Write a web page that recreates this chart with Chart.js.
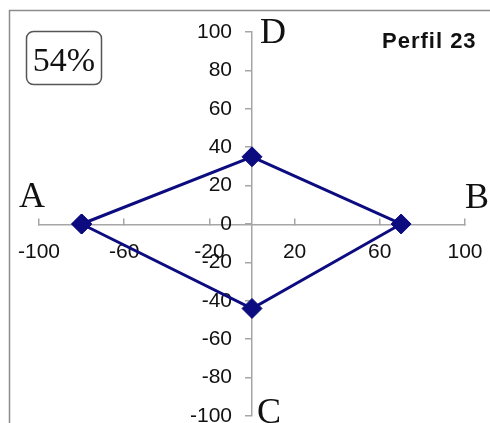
<!DOCTYPE html>
<html lang="es">
<head>
  <meta charset="UTF-8" />
  <title>Perfil 23</title>
  <script src="https://cdn.jsdelivr.net/npm/chart.js"></script>
  <style>
    body { margin: 0; background: #fff; }
    canvas { display: block; }
  </style>
</head>
<body>
  <canvas id="perfil" width="490" height="423"></canvas>

  <script>
    // puntos del perfil: A, D, B, C y vuelta a A para cerrar el rombo
    const pointNames = ['A', 'D', 'B', 'C', 'A'];
    const xValues = [-80, 0, 70, 0, -80];
    const yValues = [0, 35, 0, -44, 0];

    const xTicks = [-100, -60, -20, 20, 60, 100];
    const yTicks = [-100, -80, -60, -40, -20, 0, 20, 40, 60, 80, 100];

    const chartTitle = 'Perfil 23';
    const percentText = '54%';

    const axisColor = '#a6a6a6';
    const lineColor = '#0c0c80';
    const tickFont = { family: 'Liberation Sans', size: 21 };

    // los ejes van en el centro; sin esto el relleno de las etiquetas encoge el área
    const noPadding = scale => {
      scale.paddingTop = 0;
      scale.paddingBottom = 0;
      scale.paddingLeft = 0;
      scale.paddingRight = 0;
    };

    // marco, recuadro del porcentaje y letras de los extremos
    const decorations = {
      id: 'decorations',
      beforeDraw(chart) {
        const ctx = chart.ctx;
        ctx.save();
        ctx.strokeStyle = '#8c8c8c';
        ctx.lineWidth = 1.5;
        ctx.strokeRect(9.5, 10.5, 520, 440);
        ctx.restore();
      },
      afterDraw(chart) {
        const ctx = chart.ctx;
        ctx.save();
        ctx.fillStyle = '#111';

        ctx.font = '36px "Liberation Serif"';
        ctx.textBaseline = 'alphabetic';
        ctx.textAlign = 'left';
        ctx.fillText('A', 19, 207);
        ctx.fillText('B', 465, 208);
        ctx.fillText('D', 260, 43);
        ctx.fillText('C', 257, 423);

        // recuadro redondeado con el porcentaje
        ctx.strokeStyle = '#555';
        ctx.lineWidth = 1.5;
        ctx.beginPath();
        ctx.roundRect(26.5, 31.5, 75, 53, 7);
        ctx.stroke();
        ctx.font = '34px "Liberation Serif"';
        ctx.textAlign = 'center';
        ctx.fillText(percentText, 64, 71);

        ctx.font = 'bold 22px "Liberation Sans"';
        ctx.letterSpacing = '1px';
        ctx.textAlign = 'left';
        ctx.fillText(chartTitle, 382, 48);
        ctx.restore();
      }
    };

    const ctx = document.getElementById('perfil').getContext('2d');
    new Chart(ctx, {
      type: 'scatter',
      data: {
        labels: pointNames,
        datasets: [{
          data: xValues.map((x, i) => ({ x, y: yValues[i] })),
          showLine: true,
          borderColor: lineColor,
          borderWidth: 3,
          backgroundColor: lineColor,
          pointStyle: 'rectRot',
          pointRadius: 10,
          pointBorderWidth: 1,
          pointBorderColor: lineColor
        }]
      },
      options: {
        responsive: false,
        animation: false,
        layout: { autoPadding: false, padding: { left: 39, right: 25, top: 32, bottom: 7 } },
        plugins: {
          legend: { display: false },
          tooltip: { enabled: false }
        },
        scales: {
          x: {
            type: 'linear',
            min: -100,
            max: 100,
            position: 'center',
            afterBuildTicks: scale => { scale.ticks = xTicks.map(v => ({ value: v })); },
            afterFit: noPadding,
            // marcas hacia arriba, como en Excel
            grid: { drawOnChartArea: false, color: axisColor, lineWidth: 1.5, tickLength: -7 },
            border: { color: axisColor, width: 1.5 },
            ticks: { font: tickFont, color: '#111', maxRotation: 0, autoSkip: false, padding: 23 }
          },
          y: {
            type: 'linear',
            min: -100,
            max: 100,
            position: 'center',
            afterBuildTicks: scale => { scale.ticks = yTicks.map(v => ({ value: v })); },
            afterFit: noPadding,
            grid: { drawOnChartArea: false, color: axisColor, lineWidth: 1.5, tickLength: 6 },
            border: { color: axisColor, width: 1.5 },
            ticks: { font: tickFont, color: '#111', autoSkip: false, padding: 14 }
          }
        }
      },
      plugins: [decorations]
    });
  </script>
</body>
</html>
